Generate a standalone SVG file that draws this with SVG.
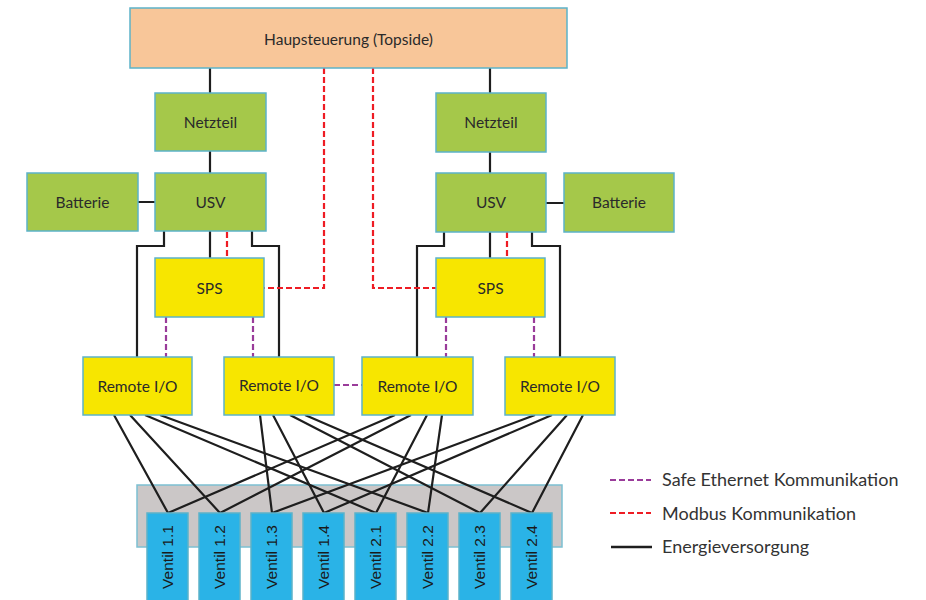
<svg xmlns="http://www.w3.org/2000/svg" width="926" height="600" viewBox="0 0 926 600">
  <defs>
    <style>
      .box { stroke: #5cb3c9; stroke-width: 1.5; }
      .top { fill: #f8c699; }
      .grn { fill: #a5c84a; }
      .yel { fill: #f7e600; }
      .vtl { fill: #2ab3e7; }
      .band { fill: #cbc7c7; stroke: #7cc0d2; stroke-width: 1.5; }
      .lbl { font-family: Lato, "Open Sans", sans-serif; font-size: 15.5px; fill: #2a2a2a; text-anchor: middle; dominant-baseline: central; }
      .vlbl { font-family: "Liberation Sans", Arial, sans-serif; font-size: 15.5px; fill: #1a1a1a; text-anchor: middle; dominant-baseline: central; }
      .leg { font-family: Lato, "Open Sans", sans-serif; font-size: 18px; fill: #333333; dominant-baseline: central; }
      .pwr { fill: none; stroke: #1e1e1e; stroke-width: 2.2; }
      .mod { fill: none; stroke: #ee1c24; stroke-width: 2.2; stroke-dasharray: 6 3; }
      .eth { fill: none; stroke: #9a3c9a; stroke-width: 2.2; stroke-dasharray: 6 3; }
    </style>
  </defs>
  <rect width="926" height="600" fill="#ffffff"/>

  <!-- valve carrier band -->
  <rect class="band" x="137" y="485" width="425" height="62"/>

  <!-- connectors -->
  <g id="connectors">
    <!-- topside to power supplies -->
    <path class="pwr" d="M210,68 V93 M490,68 V93"/>
    <!-- power supply to UPS -->
    <path class="pwr" d="M210,151 V173 M490,152 V173"/>
    <!-- battery to UPS -->
    <path class="pwr" d="M138,202 H155 M546,203 H564"/>
    <!-- UPS to PLC -->
    <path class="pwr" d="M210,231 V258 M490,232 V258"/>
    <!-- UPS to remote I/O -->
    <path class="pwr" d="M164,231 V246 H137 V357 M252,231 V246 H279 V357"/>
    <path class="pwr" d="M444,232 V246 H417 V357 M532,232 V246 H560 V357"/>
    <!-- Modbus -->
    <path class="mod" d="M227,232 V258 M507,232 V258"/>
    <path class="mod" d="M324,68 V288 H264"/>
    <path class="mod" d="M373,68 V288 H436"/>
    <!-- Safe Ethernet -->
    <path class="eth" d="M166,317 V357 M253,317 V357"/>
    <path class="eth" d="M446,317 V357 M534,317 V357"/>
    <path class="eth" d="M334,385 H362"/>
    <!-- remote I/O to valves -->
    <g class="pwr">
      <path d="M114,415 L168,513 M130,415 L220,513 M145,415 L376,513 M160,415 L428,513"/>
      <path d="M260,415 L272,513 M273,415 L324,513 M290,415 L480,513 M305,415 L532,513"/>
      <path d="M395,415 L168,513 M411,415 L220,513 M427,415 L376,513 M442,415 L428,513"/>
      <path d="M535,415 L272,513 M552,415 L324,513 M567,415 L480,513 M583,415 L532,513"/>
    </g>
  </g>

  <g id="haupsteuerung">
    <rect class="box top" x="130" y="8" width="437" height="60"/>
    <text class="lbl" x="348.5" y="39">Haupsteuerung (Topside)</text>
  </g>

  <g id="netzteil-1">
    <rect class="box grn" x="155" y="93" width="111" height="58"/>
    <text class="lbl" x="210.5" y="122">Netzteil</text>
  </g>
  <g id="netzteil-2">
    <rect class="box grn" x="436" y="93" width="110" height="59"/>
    <text class="lbl" x="491" y="122">Netzteil</text>
  </g>

  <g id="batterie-1">
    <rect class="box grn" x="27" y="173" width="111" height="58"/>
    <text class="lbl" x="82.5" y="202">Batterie</text>
  </g>
  <g id="usv-1">
    <rect class="box grn" x="155" y="173" width="111" height="58"/>
    <text class="lbl" x="210.5" y="202">USV</text>
  </g>
  <g id="usv-2">
    <rect class="box grn" x="436" y="173" width="110" height="59"/>
    <text class="lbl" x="491" y="202">USV</text>
  </g>
  <g id="batterie-2">
    <rect class="box grn" x="564" y="173" width="110" height="59"/>
    <text class="lbl" x="619" y="202">Batterie</text>
  </g>

  <g id="sps-1">
    <rect class="box yel" x="155" y="258" width="109" height="59"/>
    <text class="lbl" x="209.5" y="288">SPS</text>
  </g>
  <g id="sps-2">
    <rect class="box yel" x="436" y="258" width="109" height="59"/>
    <text class="lbl" x="490.5" y="288">SPS</text>
  </g>

  <g id="remote-io-1">
    <rect class="box yel" x="83" y="357" width="109" height="58"/>
    <text class="lbl" x="137.5" y="386">Remote I/O</text>
  </g>
  <g id="remote-io-2">
    <rect class="box yel" x="224" y="357" width="110" height="58"/>
    <text class="lbl" x="279" y="385">Remote I/O</text>
  </g>
  <g id="remote-io-3">
    <rect class="box yel" x="362" y="357" width="111" height="58"/>
    <text class="lbl" x="417.5" y="386">Remote I/O</text>
  </g>
  <g id="remote-io-4">
    <rect class="box yel" x="505" y="357" width="110" height="58"/>
    <text class="lbl" x="560" y="386">Remote I/O</text>
  </g>

  <g id="ventil-1-1">
    <rect class="box vtl" x="147" y="513" width="41" height="95"/>
    <text class="vlbl" transform="translate(167.5,557) rotate(-90)">Ventil 1.1</text>
  </g>
  <g id="ventil-1-2">
    <rect class="box vtl" x="199" y="513" width="41" height="95"/>
    <text class="vlbl" transform="translate(219.5,557) rotate(-90)">Ventil 1.2</text>
  </g>
  <g id="ventil-1-3">
    <rect class="box vtl" x="251" y="513" width="41" height="95"/>
    <text class="vlbl" transform="translate(271.5,557) rotate(-90)">Ventil 1.3</text>
  </g>
  <g id="ventil-1-4">
    <rect class="box vtl" x="303" y="513" width="41" height="95"/>
    <text class="vlbl" transform="translate(323.5,557) rotate(-90)">Ventil 1.4</text>
  </g>
  <g id="ventil-2-1">
    <rect class="box vtl" x="355" y="513" width="41" height="95"/>
    <text class="vlbl" transform="translate(375.5,557) rotate(-90)">Ventil 2.1</text>
  </g>
  <g id="ventil-2-2">
    <rect class="box vtl" x="407" y="513" width="41" height="95"/>
    <text class="vlbl" transform="translate(427.5,557) rotate(-90)">Ventil 2.2</text>
  </g>
  <g id="ventil-2-3">
    <rect class="box vtl" x="459" y="513" width="41" height="95"/>
    <text class="vlbl" transform="translate(479.5,557) rotate(-90)">Ventil 2.3</text>
  </g>
  <g id="ventil-2-4">
    <rect class="box vtl" x="511" y="513" width="41" height="95"/>
    <text class="vlbl" transform="translate(531.5,557) rotate(-90)">Ventil 2.4</text>
  </g>

  <!-- legend -->
  <g id="legend">
    <line class="eth" x1="610" y1="480" x2="651" y2="480"/>
    <text class="leg" x="662" y="479">Safe Ethernet Kommunikation</text>
    <line class="mod" x1="610" y1="513" x2="651" y2="513"/>
    <text class="leg" x="662" y="513">Modbus Kommunikation</text>
    <line class="pwr" x1="611" y1="547" x2="652" y2="547" style="stroke-width:2.5"/>
    <text class="leg" x="662" y="546">Energieversorgung</text>
  </g>
</svg>
